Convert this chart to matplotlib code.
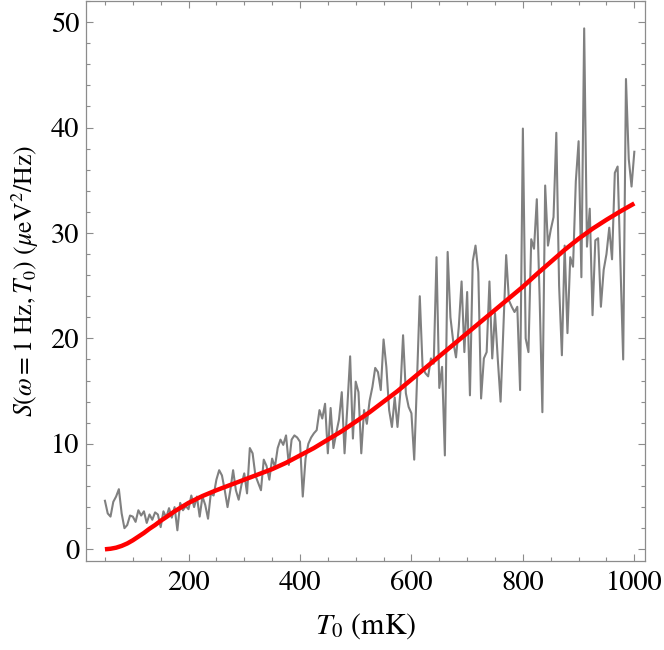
import numpy as np
import matplotlib
matplotlib.use("Agg")
import matplotlib.pyplot as plt
from matplotlib.ticker import MultipleLocator

plt.rcParams['font.family'] = ['STIXGeneral', 'DejaVu Serif']
plt.rcParams['mathtext.fontset'] = 'stix'

# noisy measured spectrum, one value every 5 mK from 50 to 1000 mK
T_noisy = np.arange(50, 1001, 5)
S_noisy = [
    4.6, 3.4, 3.1, 4.5, 5.0, 5.7, 3.4, 2.0, 2.3, 3.2,          # 50-95
    3.1, 2.6, 3.7, 3.2, 3.6, 2.5, 3.3, 2.8, 3.5, 3.3,          # 100-145
    2.1, 3.6, 3.0, 3.9, 3.0, 4.0, 1.8, 4.4, 3.7, 4.1,          # 150-195
    3.8, 5.1, 4.0, 5.0, 3.1, 5.0, 4.2, 2.9, 5.3, 5.1,          # 200-245
    6.6, 7.5, 7.0, 5.6, 4.0, 5.6, 7.5, 5.6, 4.7, 6.1,          # 250-295
    7.2, 5.3, 9.6, 9.1, 7.0, 6.3, 5.6, 8.5, 7.9, 6.6,          # 300-345
    8.6, 7.8, 9.6, 10.4, 9.9, 10.8, 8.0, 10.4, 10.8, 10.6,     # 350-395
    10.2, 5.0, 8.6, 10.0, 10.6, 11.0, 11.3, 13.2, 12.4, 13.8,  # 400-445
    9.1, 13.4, 9.6, 11.0, 12.3, 14.9, 9.1, 13.5, 18.3, 10.5,   # 450-495
    15.9, 14.9, 9.1, 13.2, 11.9, 14.1, 15.4, 17.2, 16.8, 15.1, # 500-545
    19.9, 17.3, 13.2, 11.6, 14.4, 11.6, 14.8, 20.3, 14.8, 13.5, # 550-595
    12.9, 8.5, 16.0, 24.0, 17.3, 16.7, 16.4, 18.1, 17.6, 27.7, # 600-645
    15.3, 17.3, 8.9, 28.2, 22.0, 19.7, 18.2, 21.1, 25.4, 18.7, # 650-695
    24.4, 14.6, 27.3, 28.8, 26.3, 14.3, 18.1, 18.7, 25.4, 18.1, # 700-745
    22.4, 18.0, 14.0, 21.0, 27.9, 23.6, 23.0, 22.5, 23.0, 15.1, # 750-795
    39.9, 20.0, 18.7, 29.4, 28.5, 33.2, 24.0, 13.0, 34.5, 28.8, # 800-845
    30.3, 31.5, 39.5, 25.0, 18.4, 28.8, 20.5, 27.7, 26.8, 34.9, # 850-895
    38.7, 25.8, 49.4, 28.7, 32.3, 22.2, 29.3, 29.5, 23.0, 26.5, # 900-945
    28.0, 30.5, 27.5, 35.7, 36.3, 27.0, 18.0, 44.6, 37.0, 34.4, # 950-995
    37.7,                                                       # 1000
]

# smooth model curve (denser at low T where it bends)
T_model = [50, 60, 70, 80, 90, 100, 110, 120, 130, 140, 150, 160, 175,
           200, 225, 250, 275, 300, 325, 350, 375, 400, 425, 450, 475,
           500, 525, 550, 575, 600, 625, 650, 675, 700, 725, 750, 775,
           800, 825, 850, 875, 900, 925, 950, 975, 1000]
S_model = [0.0, 0.05, 0.15, 0.32, 0.55, 0.85, 1.2, 1.55, 1.95, 2.3, 2.7, 3.05, 3.6,
           4.4, 5.05, 5.6, 6.1, 6.6, 7.1, 7.6, 8.2, 8.9, 9.6, 10.4, 11.2,
           12.1, 13.0, 14.0, 15.0, 16.1, 17.2, 18.3, 19.4, 20.5, 21.6, 22.7, 23.8,
           24.9, 26.1, 27.25, 28.4, 29.45, 30.4, 31.25, 32.05, 32.8]

fig = plt.figure(figsize=(6.64, 6.5), dpi=100)
ax = fig.add_axes([0.1295, 0.1363, 0.8426, 0.8622])

ax.plot(T_noisy, S_noisy, color='#808080', lw=1.5, solid_joinstyle='round')
ax.plot(T_model, S_model, color='#ff0000', lw=3.2, solid_capstyle='butt',
        solid_joinstyle='round')

ax.set_xlim(16, 1020)
ax.set_ylim(-1.15, 52.0)

ax.xaxis.set_major_locator(MultipleLocator(200))
ax.xaxis.set_minor_locator(MultipleLocator(50))
ax.yaxis.set_major_locator(MultipleLocator(10))
ax.yaxis.set_minor_locator(MultipleLocator(2))

frame_col = '#8c8c8c'
for s in ax.spines.values():
    s.set_color(frame_col)
    s.set_linewidth(0.9)
ax.tick_params(which='both', direction='in', top=True, right=True,
               color=frame_col, width=0.8, labelsize=20.5, labelcolor='black')
ax.tick_params(which='major', length=5)
ax.tick_params(which='minor', length=3)
ax.tick_params(axis='x', pad=7)
ax.tick_params(axis='y', pad=5)

ax.set_xlabel(r'$T_0$ (mK)', fontsize=21.5, labelpad=11)
ax.set_ylabel(r'$S(\omega = 1\ \mathrm{Hz}, T_0)\ (\mu\mathrm{eV}^2/\mathrm{Hz})$',
              fontsize=18.5, labelpad=7)

plt.savefig('out.png', dpi=100)
